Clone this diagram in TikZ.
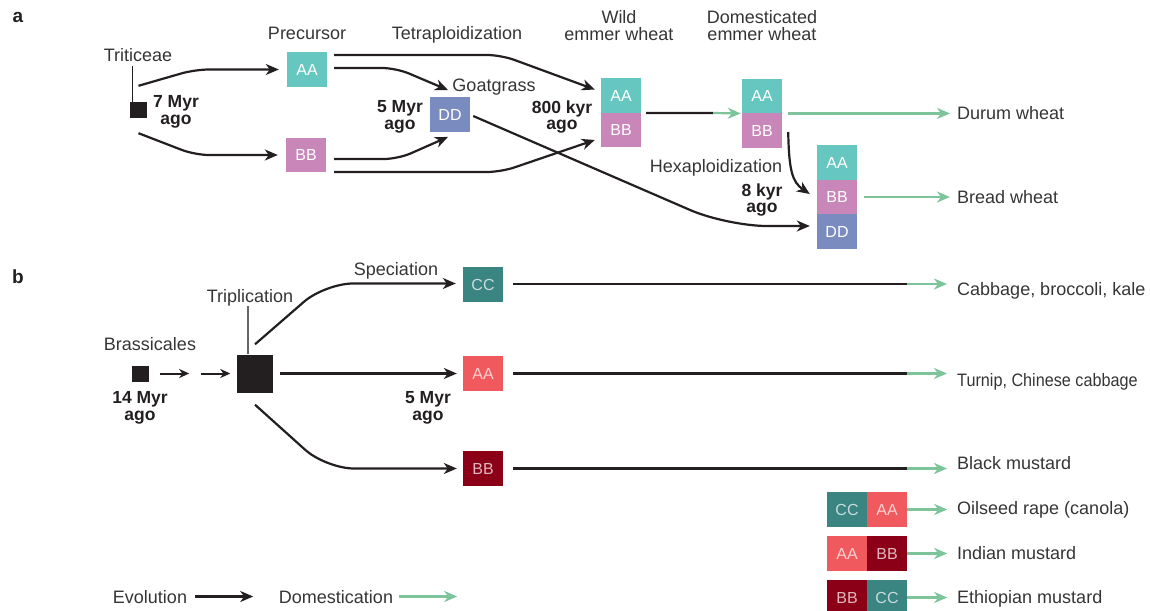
\documentclass[tikz,border=0pt]{standalone}
\usepackage{fontspec}
\usepackage{graphicx}
\setmainfont{Liberation Sans}
\usetikzlibrary{arrows.meta,calc}
\definecolor{txt}{HTML}{353535}
\definecolor{ink}{HTML}{231F20}
\definecolor{wheatA}{HTML}{66C7C0}
\definecolor{wheatB}{HTML}{C986B8}
\definecolor{wheatD}{HTML}{7A8CBF}
\definecolor{brC}{HTML}{3A8482}
\definecolor{brA}{HTML}{F05A5E}
\definecolor{brB}{HTML}{8B0016}
\definecolor{domc}{HTML}{7DC49A}
\begin{document}
\begin{tikzpicture}[x=1pt,y=-1pt,
 lbl/.style={text=txt, font=\fontsize{18}{18}\selectfont, anchor=base, inner sep=0},
 panel/.style={lbl, font=\bfseries\fontsize{19}{19}\selectfont, text=ink},
 two/.style={text=txt, font=\fontsize{18}{17.5}\selectfont, align=center, inner sep=0},
 age/.style={text=ink, font=\bfseries\fontsize{17.5}{16.5}\selectfont, align=center, inner sep=0},
 crop/.style={lbl, anchor=base west},
 gbox/.style={minimum width=40pt, minimum height=34.5pt, inner sep=0, text=white, font=\fontsize{16}{16}\selectfont},
 bbox/.style={gbox, minimum height=35pt, text opacity=0.72},
 blk/.style={fill=ink, inner sep=0},
 evo/.style={draw=ink, line width=2.2pt, -{Stealth[length=13pt,width=11pt,inset=4pt]}, rounded corners=14pt},
 evos/.style={draw=ink, line width=2pt, -{Stealth[length=10pt,width=9pt,inset=3pt]}},
 domes/.style={draw=domc, line width=2.2pt, -{Stealth[length=13pt,width=11pt,inset=4pt]}},
 plain/.style={draw=ink, line width=2.2pt},
]
\useasboundingbox (0,0) rectangle (1150,610);

% ---------------- panel a ----------------
\node[panel] (la) at (18,23) {a};
\node[lbl] (trit) at (138,61) {Triticeae};
\node[blk, minimum width=17pt, minimum height=16pt] (sq) at (138.5,110) {};
\draw[ink, line width=1.2pt] ($(sq.north west)+(3,-36)$) -- ($(sq.north west)+(3,0)$);
\node[age] (a7) at (176,112) {7 Myr\\ago};
\node[lbl] (prec) at (307,40) {Precursor};
\node[lbl] (tetra) at (457,40) {Tetraploidization};
\node[gbox, fill=wheatA] (pA) at (307,69.5) {AA};
\node[gbox, fill=wheatB] (pB) at (306,155) {BB};
\node[lbl] (goat) at (494,91) {Goatgrass};
\node[gbox, fill=wheatD] (gD) at (450,114.5) {DD};
\node[age] (a5) at (400,117) {5 Myr\\ago};
\node[age] (a800) at (562,117) {800 kyr\\ago};
\node[two] (wild) at (619,25.5) {Wild\\emmer wheat};
\node[two] (dome) at (762,25.5) {Domesticated\\emmer wheat};
\node[gbox, fill=wheatA] (wildA) at (621,95.5) {AA};
\node[gbox, fill=wheatB] (wildB) at (621,130) {BB};
\node[gbox, fill=wheatA] (domA) at (762,96) {AA};
\node[gbox, fill=wheatB] (domB) at (762,130.5) {BB};
\node[lbl] (hexa) at (716,172) {Hexaploidization};
\node[age] (a8) at (762,200) {8 kyr\\ago};
\node[gbox, fill=wheatA] (bwA) at (837,162.5) {AA};
\node[gbox, fill=wheatB] (bwB) at (837,197) {BB};
\node[gbox, fill=wheatD] (bwD) at (837,231.5) {DD};
\node[crop] (durum) at (957,119.5) {Durum wheat};
\node[crop] (bread) at (957,203.5) {Bread wheat};

\draw[evo, shorten >=8pt] ($(sq.north)+(0,-16)$) -- (195,69.5) -- (pA.west);
\draw[evo, shorten >=8pt] ($(sq.south)+(0,15)$) -- (195,155) -- (pB.west);
\draw[evo] ($(pA.east)+(7,-14.5)$) -- (501,55) -- ($(wildA.west)+(-6,-6)$);
\draw[evo] ($(pA.east)+(7,-1.5)$) -- (396,68) -- ($(gD.north)+(-2,-7)$);
\draw[evo] ($(pB.east)+(8,4)$) -- (398,159) -- ($(gD.south)+(-2,5)$);
\draw[evo] ($(pB.east)+(8,17)$) -- (501,172) -- ($(wildB.west)+(-6,10)$);
\draw[evo, rounded corners=40pt] ($(gD.east)+(3,1.5)$) -- (727,226) -- ($(bwD.west)+(-7,-5.5)$);
\coordinate (wsw) at (713,113);
\draw[plain] ($(wildA.south east)+(5,0)$) -- (wsw);
\draw[domes] (wsw) -- ($(domA.south west)+(-1,0)$);
\draw[domes, shorten >=7pt] ($(domA.south east)+(6,0)$) -- (durum.west |- domA.south east);
\draw[evo] ($(domB.east)+(6,1.5)$) .. controls (789,170) and (792,182) .. ($(bwB.west)+(-7,-3)$);
\draw[domes, shorten >=7pt] ($(bwB.east)+(7,0)$) -- (bread.west |- bwB.east);

% ---------------- panel b ----------------
\node[panel] (lb) at (18,283) {b};
\node[lbl] (spec) at (396,275) {Speciation};
\node[lbl] (trip) at (250,302) {Triplication};
\node[lbl] (brass) at (150,350) {Brassicales};
\node[blk, minimum width=17pt, minimum height=16pt] (sq2) at (140.5,373.5) {};
\node[blk, minimum width=36pt, minimum height=38pt] (big) at (254.5,373.5) {};
\node[age] (a14) at (140,408) {14 Myr\\ago};
\node[age] (a5b) at (428,408) {5 Myr\\ago};
\node[bbox, fill=brC] (cC) at (483,284.5) {CC};
\node[bbox, fill=brA] (cA) at (483,373.5) {AA};
\node[bbox, fill=brB] (cB) at (483,468.5) {BB};
\node[crop] (cab) at (957,295.5) {Cabbage, broccoli, kale};
\node[crop] (turn) at (957,386.5) {\scalebox{0.9}[1]{Turnip, Chinese cabbage}};
\node[crop] (blm) at (957,469.5) {Black mustard};

\node[bbox, fill=brC] (oC) at (847,509.5) {CC};
\node[bbox, fill=brA] (oA) at (887,509.5) {AA};
\node[bbox, fill=brA] (iA) at (847,553.5) {AA};
\node[bbox, fill=brB] (iB) at (887,553.5) {BB};
\node[bbox, fill=brB] (eB) at (847,597.5) {BB};
\node[bbox, fill=brC] (eC) at (887,597.5) {CC};
\node[crop] (oil) at (957,514.5) {Oilseed rape (canola)};
\node[crop] (ind) at (957,559.5) {Indian mustard};
\node[crop] (eth) at (957,603.5) {Ethiopian mustard};

\draw[draw=black!60, line width=1.2pt] ($(big.north)+(-6.5,0)$) -- ++(0,-48);
\draw[evos] ($(sq2.east)+(11,0)$) -- ++(29,0);
\draw[evos] ($(big.west)+(-35,0)$) -- ($(big.west)+(-6,0)$);
\draw[evo, rounded corners=28pt] ($(big.north)+(0.5,-10)$) -- (325,283.5) -- ($(cC.west)+(-7,-1)$);
\draw[evo] ($(big.east)+(7,0)$) -- ($(cA.west)+(-6,0)$);
\draw[evo, rounded corners=28pt] ($(big.south)+(0.5,12)$) -- (326,468.5) -- ($(cB.west)+(-6,0)$);

\coordinate (gC) at (907,284);
\coordinate (gA) at (907,373.5);
\coordinate (gB) at (907,468.5);
\draw[plain] ($(cC.east)+(10,-0.5)$) -- (gC);
\draw[domes] (gC) -- ++(40,0);
\draw[plain] ($(cA.east)+(10,0)$) -- (gA);
\draw[domes] (gA) -- ++(40,0);
\draw[plain] ($(cB.east)+(10,0)$) -- (gB);
\draw[domes] (gB) -- ++(40,0);
\draw[domes] (oA.east) -- ++(40,0);
\draw[domes] (iB.east) -- ++(40,0);
\draw[domes] (eC.east) -- ++(40,0);

% legend
\node[lbl] (evol) at (150,603) {Evolution};
\draw[evo] ($(evol.base east)+(8,-6.5)$) -- ++(58,0);
\node[lbl] (domest) at (336,603) {Domestication};
\draw[domes] ($(domest.base east)+(6,-6.5)$) -- ++(58,0);
\end{tikzpicture}
\end{document}
